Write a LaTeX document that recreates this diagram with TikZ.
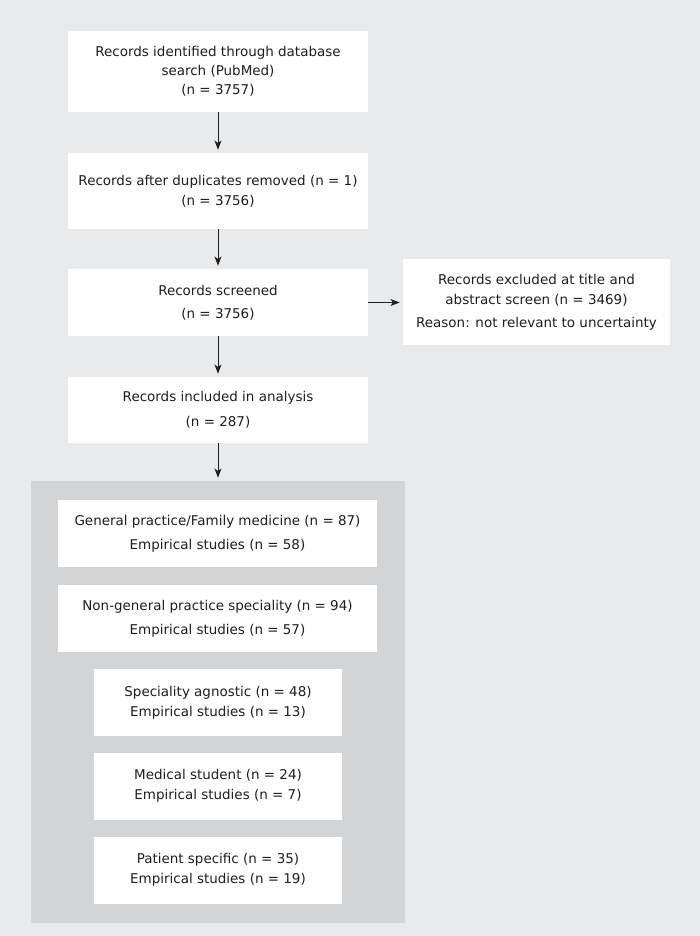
\documentclass[tikz,border=0pt]{standalone}
\usepackage{fontspec}
\setmainfont{DejaVu Sans}
\usetikzlibrary{arrows.meta}
\definecolor{bggray}{RGB}{233,234,235}
\definecolor{panelgray}{RGB}{211,212,214}
\definecolor{inkgray}{RGB}{30,30,30}
\begin{document}
\begin{tikzpicture}[x=0.75pt,y=-0.75pt,
    box/.style={fill=white,align=center,inner sep=0pt,text=inkgray,font=\fontsize{10.1}{15}\selectfont},
    flow/.style={box,minimum width=225pt},
    group/.style={box,minimum width=239.25pt,minimum height=50.25pt},
    subgroup/.style={box,minimum width=186pt,minimum height=50.25pt},
    arr/.style={-{Stealth[length=7pt,width=5.25pt,inset=2pt]},draw=inkgray,line width=0.7pt,shorten >=2.25pt}]
    \useasboundingbox (0,0) rectangle (700,936);
    \fill[bggray] (0,0) rectangle (700,936);
    \node[flow,minimum height=60.75pt] (ident) at (218,71.5) {Records identified through database\\[-0.75pt]search (PubMed)\\[-0.75pt](n = 3757)};
    \node[flow,minimum height=57pt] (dupl) at (218,191) {Records after duplicates removed (n = 1)\\(n = 3756)};
    \node[flow,minimum height=50.25pt] (screen) at (218,302.5) {Records screened\\[2.25pt](n = 3756)};
    \node[box,minimum width=200.25pt,minimum height=64.5pt] (excl) at (536.5,302) {Records excluded at title and\\abstract screen (n = 3469)\\[2.25pt]Reason: not relevant to uncertainty};
    \node[flow,minimum height=49.5pt] (incl) at (218,410) {Records included in analysis\\[3.75pt](n = 287)};
    \node[fill=panelgray,inner sep=0pt,minimum width=280.5pt,minimum height=331.5pt] (panel) at (218,702) {};
    \node[group] (gp) at (217.5,533.5) {General practice/Family medicine (n = 87)\\[3pt]Empirical studies (n = 58)};
    \node[group] (nongp) at (217.5,618.5) {Non-general practice speciality (n = 94)\\[3pt]Empirical studies (n = 57)};
    \node[subgroup] (agn) at (218,702.5) {Speciality agnostic (n = 48)\\Empirical studies (n = 13)};
    \node[subgroup] (stud) at (218,786) {Medical student (n = 24)\\Empirical studies (n = 7)};
    \node[subgroup] (pat) at (218,870) {Patient specific (n = 35)\\Empirical studies (n = 19)};
    \draw[arr] (ident) -- (dupl);
    \draw[arr] (dupl) -- (screen);
    \draw[arr] (screen) -- (incl);
    \draw[arr] (incl) -- (panel);
    \draw[arr] (screen.east) -- (screen.east -| excl.west);
\end{tikzpicture}
\end{document}
